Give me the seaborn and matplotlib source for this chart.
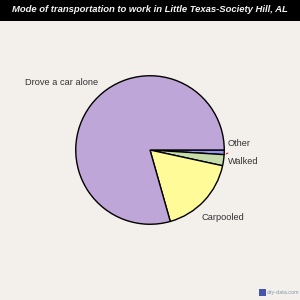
import matplotlib.pyplot as plt
import seaborn as sns
from matplotlib.patches import Rectangle

categories = ['Other', 'Walked', 'Carpooled', 'Drove a car alone']
shares = [1.0, 2.4, 17.2, 79.4]
slice_colors = ['#9396EE', '#C5DCAA', '#FFFB99', '#BFA6D8']

sns.set_theme(style='white')
plt.rcParams['font.family'] = ['Liberation Sans', 'DejaVu Sans']

bg = '#F3F0EC'
fig = plt.figure(figsize=(3, 3), dpi=100, facecolor=bg)

# title bar
fig.patches.append(Rectangle((0, 1 - 21 / 300), 1, 21 / 300, transform=fig.transFigure,
                             facecolor='black', edgecolor='none', zorder=0))
fig.text(0.5, 1 - 10 / 300, 'Mode of transportation to work in Little Texas-Society Hill, AL',
         ha='center', va='center', color='#F4F4F4', fontsize=6.8, fontweight='bold', style='italic')

ax = fig.add_axes([0.25, 0.25, 0.5, 0.5])
ax.set_facecolor(bg)
ax.pie(shares, colors=slice_colors, startangle=0, counterclock=False,
       wedgeprops=dict(edgecolor='black', linewidth=1))
ax.set_xlim(-1.01, 1.01)
ax.set_ylim(-1.01, 1.01)
ax.set_aspect('equal')
ax.axis('off')

# labels placed as in the reference (pixel positions)
label_pos = {'Drove a car alone': (25, 83), 'Other': (228, 144),
             'Walked': (228, 162), 'Carpooled': (202, 217)}
for name, (px, py) in label_pos.items():
    fig.text(px / 300, 1 - py / 300, name, ha='left', va='center',
             fontsize=6.7, color='#333333')

# small red leader tick near "Other"
fig.add_artist(plt.Line2D([226 / 300, 228 / 300], [1 - 154 / 300, 1 - 153 / 300],
                          color='red', linewidth=0.7))

# watermark
fig.patches.append(Rectangle((259 / 300, 4 / 300), 7 / 300, 7 / 300, transform=fig.transFigure,
                             facecolor='#4455AA', edgecolor='none'))
fig.text(267 / 300, 7.5 / 300, 'city-data.com', ha='left', va='center',
         fontsize=4, color='#8899AA')

fig.savefig('out.png', dpi=100, facecolor=bg)
